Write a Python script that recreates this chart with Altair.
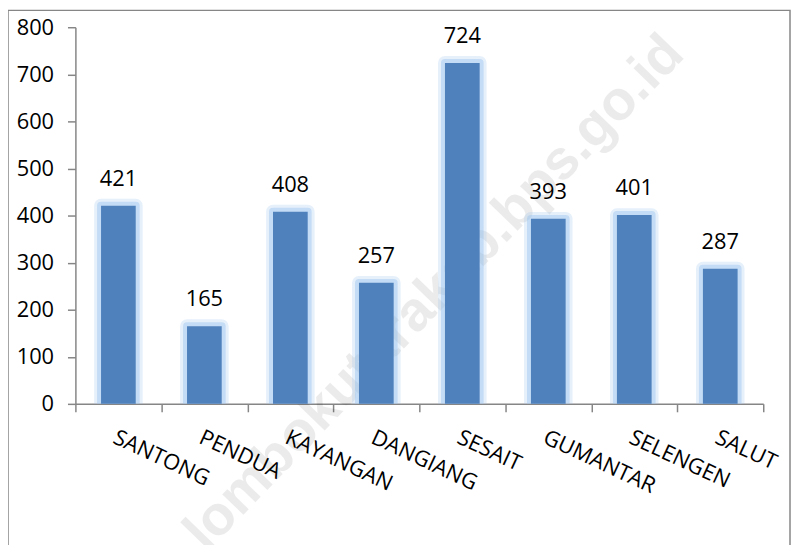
import altair as alt
import pandas as pd

categories = ["SANTONG", "PENDUA", "KAYANGAN", "DANGIANG", "SESAIT", "GUMANTAR", "SELENGEN", "SALUT"]
values = [421, 165, 408, 257, 724, 393, 401, 287]
y_ticks = [0, 100, 200, 300, 400, 500, 600, 700, 800]
watermark = "lombokutarakab.bps.go.id"

df = pd.DataFrame({"kec": categories, "val": values})

FONT = "Open Sans"
W, H = 694, 380

x_enc = alt.X("kec:N", sort=categories, title=None,
              scale=alt.Scale(paddingInner=0, paddingOuter=0),
              axis=alt.Axis(labelAngle=25, labelAlign="left", labelBaseline="top",
                            labelPadding=15, tickSize=8, tickBand="extent",
                            labelFontSize=22, labelFont=FONT, labelColor="#000000",
                            domainColor="#868686", tickColor="#868686",
                            domainWidth=1.5, tickWidth=1.5, labelOverlap=False))
y_enc = alt.Y("val:Q", title=None,
              scale=alt.Scale(domain=[0, 800], nice=False),
              axis=alt.Axis(values=y_ticks, grid=False, tickSize=8, labelPadding=14,
                            labelFontSize=22, labelFont=FONT, labelColor="#000000",
                            domainColor="#868686", tickColor="#868686",
                            domainWidth=1.5, tickWidth=1.5))

base = alt.Chart(df)

border = alt.Chart(pd.DataFrame({"b": [1]})).mark_rect(
    fillOpacity=0, stroke="#868686", strokeWidth=1.5, clip=False
).encode(x=alt.value(-68), x2=alt.value(721), y=alt.value(-17), y2=alt.value(560))

wm = alt.Chart(pd.DataFrame({"t": [watermark]})).mark_text(
    angle=314, fontSize=56, fontWeight="bold", font="Liberation Sans",
    color="#000000", opacity=0.075, align="center", baseline="middle"
).encode(text="t:N", x=alt.value(362), y=alt.value(268))

glow1 = base.mark_bar(size=35, clip=True, fillOpacity=0, stroke="#9cc3ee",
                      strokeWidth=14, strokeOpacity=0.25, strokeJoin="round").encode(x=x_enc, y=y_enc)
glow2 = base.mark_bar(size=35, clip=True, fillOpacity=0, stroke="#9cc3ee",
                      strokeWidth=8, strokeOpacity=0.45, strokeJoin="round").encode(x=x_enc, y=y_enc)
bars = base.mark_bar(size=35, color="#4F81BD").encode(x=x_enc, y=y_enc)
labels = base.mark_text(dy=-20, baseline="alphabetic", fontSize=22, font=FONT,
                        color="#000000").encode(x=x_enc, y=y_enc, text="val:Q")

chart = alt.layer(border, wm, glow1, glow2, bars, labels).properties(
    width=W, height=H,
    autosize=alt.AutoSizeParams(type="none"),
    padding={"left": 68, "top": 17, "right": 28, "bottom": 140},
).configure_view(stroke=None)

chart.save("out.html", embed_options={"renderer": "svg", "actions": False})
